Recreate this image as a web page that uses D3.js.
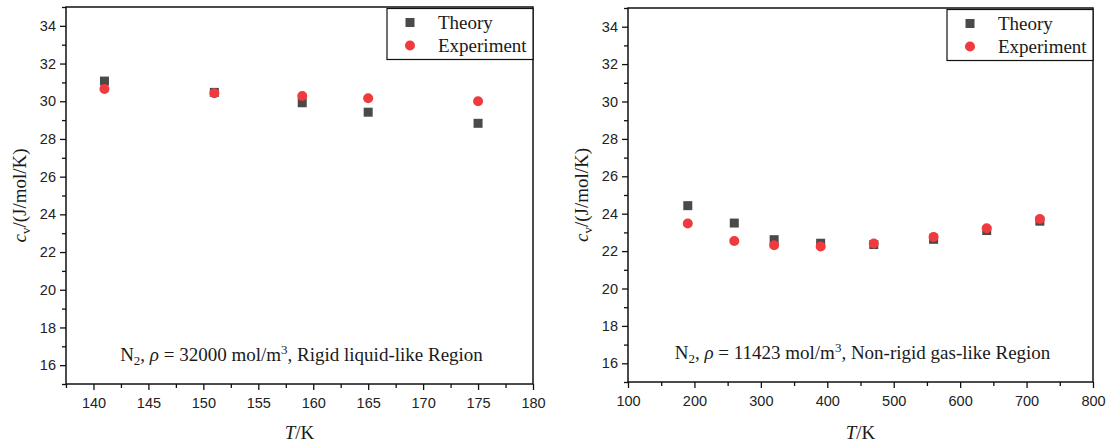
<!DOCTYPE html>
<html>
<head>
<meta charset="utf-8">
<script src="https://cdn.jsdelivr.net/npm/d3@7"></script>
<style>
  body { margin: 0; background: #fff; }
  svg { display: block; }
  .tick text { font-family: "Liberation Sans", Arial, sans-serif; font-size: 14.5px; fill: #222; }
</style>
</head>
<body>
<div id="chart"></div>
<script>
// Data
const liquidT = [141, 151, 159, 165, 175];
const liquidTheory = [31.07, 30.47, 29.92, 29.42, 28.83];
const liquidExp = [30.65, 30.42, 30.28, 30.16, 30.0];

const gasT = [190, 260, 320, 390, 470, 560, 640, 720];
const gasTheory = [24.43, 23.50, 22.61, 22.42, 22.35, 22.63, 23.10, 23.60];
const gasExp = [23.48, 22.54, 22.31, 22.25, 22.41, 22.76, 23.22, 23.72];

const yTicks = [16, 18, 20, 22, 24, 26, 28, 30, 32, 34];
const liquidXTicks = [140, 145, 150, 155, 160, 165, 170, 175, 180];
const gasXTicks = [100, 200, 300, 400, 500, 600, 700, 800];

const seriesNames = ["Theory", "Experiment"];
const squareColor = "#4a4a4a";
const circleColor = "#ef3b3d";
const serif = "'Liberation Serif', 'Times New Roman', Times, 'DejaVu Serif', serif";

const svg = d3.select("#chart")
  .append("svg")
    .attr("width", 1113)
    .attr("height", 445);

function serifText(sel) {
  return sel.append("text")
    .attr("font-family", serif)
    .attr("fill", "#1a1a1a");
}

function drawPanel(p) {
  const x = d3.scaleLinear().domain(p.xDomain).range([p.left, p.right]);
  const y = d3.scaleLinear().domain([15, 35]).range([p.bottom, p.top]);
  const g = svg.append("g");

  // minor ticks (between majors)
  const xStep = p.xTicks[1] - p.xTicks[0];
  const xMinor = d3.range(p.xTicks[0] - xStep / 2, p.xDomain[1], xStep).filter(v => v >= p.xDomain[0]);
  const yMinor = d3.range(15, 36, 2);

  g.append("g")
    .attr("transform", `translate(0,${p.bottom})`)
    .call(d3.axisBottom(x).tickValues(xMinor).tickSize(4).tickFormat(""))
    .call(a => a.select(".domain").remove())
    .call(a => a.selectAll("line").attr("stroke", "#111").attr("stroke-width", 1.3));
  g.append("g")
    .attr("transform", `translate(${p.left},0)`)
    .call(d3.axisLeft(y).tickValues(yMinor).tickSize(4).tickFormat(""))
    .call(a => a.select(".domain").remove())
    .call(a => a.selectAll("line").attr("stroke", "#111").attr("stroke-width", 1.3));

  // major ticks with labels
  g.append("g")
    .attr("transform", `translate(0,${p.bottom})`)
    .call(d3.axisBottom(x).tickValues(p.xTicks).tickSize(6).tickPadding(8).tickFormat(d3.format("d")))
    .call(a => a.select(".domain").remove())
    .call(a => a.selectAll("line").attr("stroke", "#111").attr("stroke-width", 1.3));
  g.append("g")
    .attr("transform", `translate(${p.left},0)`)
    .call(d3.axisLeft(y).tickValues(yTicks).tickSize(6).tickPadding(4).tickFormat(d3.format("d")))
    .call(a => a.select(".domain").remove())
    .call(a => a.selectAll("line").attr("stroke", "#111").attr("stroke-width", 1.3));

  // frame
  g.append("rect")
    .attr("x", p.left)
    .attr("y", p.top)
    .attr("width", p.right - p.left)
    .attr("height", p.bottom - p.top)
    .attr("fill", "none")
    .attr("stroke", "#111")
    .attr("stroke-width", 1.5);

  // points: squares first, circles on top
  const sq = 9;
  g.append("g").selectAll("rect")
    .data(p.t.map((t, i) => ({t: t, v: p.theory[i]})))
    .join("rect")
      .attr("x", d => x(d.t) - sq / 2)
      .attr("y", d => y(d.v) - sq / 2)
      .attr("width", sq)
      .attr("height", sq)
      .attr("fill", squareColor);
  g.append("g").selectAll("circle")
    .data(p.t.map((t, i) => ({t: t, v: p.exp[i]})))
    .join("circle")
      .attr("cx", d => x(d.t))
      .attr("cy", d => y(d.v))
      .attr("r", 5)
      .attr("fill", circleColor);

  // legend
  const lw = 146, lh = 51;
  const lx = p.right - lw, ly = p.top + 1.5;
  const leg = g.append("g");
  leg.append("rect")
    .attr("x", lx).attr("y", ly).attr("width", lw).attr("height", lh)
    .attr("fill", "#fff").attr("stroke", "#111").attr("stroke-width", 1.2);
  leg.append("rect")
    .attr("x", lx + 23 - sq / 2).attr("y", ly + 14 - sq / 2)
    .attr("width", sq).attr("height", sq).attr("fill", squareColor);
  leg.append("circle")
    .attr("cx", lx + 23).attr("cy", ly + 37).attr("r", 5).attr("fill", circleColor);
  seriesNames.forEach((name, i) => {
    serifText(leg)
      .attr("x", lx + 51)
      .attr("y", ly + 20 + i * 23)
      .attr("font-size", 19)
      .text(name);
  });

  // annotation
  const note = serifText(g)
    .attr("x", (p.left + p.right) / 2 + 2)
    .attr("y", p.bottom - 23)
    .attr("text-anchor", "middle")
    .attr("font-size", 19);
  note.append("tspan").text("N");
  note.append("tspan").attr("font-size", 13).attr("dy", 4).text("2");
  note.append("tspan").attr("dy", -4).text(", ");
  note.append("tspan").attr("font-style", "italic").text("ρ");
  note.append("tspan").text(" = " + p.rho + " mol/m");
  note.append("tspan").attr("font-size", 13).attr("dy", -7).text("3");
  note.append("tspan").attr("dy", 7).text(", " + p.region);

  // x title
  const xt = serifText(g)
    .attr("x", (p.left + p.right) / 2)
    .attr("y", 439)
    .attr("text-anchor", "middle")
    .attr("font-size", 19);
  xt.append("tspan").attr("font-style", "italic").text("T");
  xt.append("tspan").text("/K");

  // y title
  const yt = serifText(g)
    .attr("transform", `translate(${p.left - 40},${(p.top + p.bottom) / 2}) rotate(-90)`)
    .attr("text-anchor", "middle")
    .attr("font-size", 19);
  yt.append("tspan").attr("font-style", "italic").text("c");
  yt.append("tspan").attr("font-size", 13).attr("dy", 4).text("v");
  yt.append("tspan").attr("dy", -4).text("/(J/mol/K)");
}

drawPanel({
  left: 66, right: 533, top: 7, bottom: 384,
  xDomain: [137.5, 180], xTicks: liquidXTicks,
  t: liquidT, theory: liquidTheory, exp: liquidExp,
  rho: "32000", region: "Rigid liquid-like Region"
});

drawPanel({
  left: 628, right: 1093, top: 8, bottom: 382,
  xDomain: [100, 800], xTicks: gasXTicks,
  t: gasT, theory: gasTheory, exp: gasExp,
  rho: "11423", region: "Non-rigid gas-like Region"
});
</script>
</body>
</html>
